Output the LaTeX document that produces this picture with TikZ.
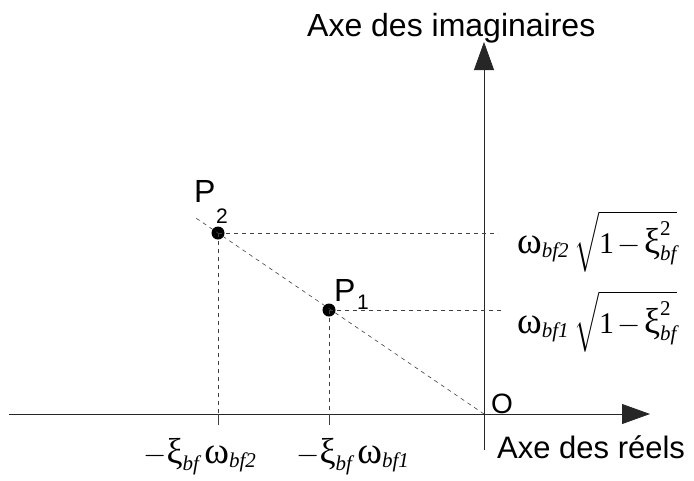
\documentclass[tikz,border=0pt]{standalone}
\usepackage{fix-cm}
\usepackage{amsmath}
\usepackage{fontspec}
\setmainfont{Liberation Serif}
\setsansfont{Liberation Sans}
\usetikzlibrary{arrows.meta}
\newcommand{\ssub}[1]{\text{\itshape #1}}
\newcommand{\gom}{\text{\scalebox{1.25}{ω}}}
\newcommand{\gxi}{\text{\scalebox{1.2}{ξ}}}
\newcommand{\tminus}{\mskip2mu{-}\mskip2mu}
\begin{document}
\begin{tikzpicture}[x=1pt,y=-1pt,
  axis/.style={line width=0.8pt,draw=black!85,-{Triangle[length=28pt,width=20pt]}},
  guide/.style={line width=0.6pt,draw=black!75,dash pattern=on 4pt off 4pt},
  tick/.style={line width=0.6pt,draw=black!75},
  dot/.style={circle,fill=black,inner sep=0pt,minimum size=13pt},
  txt/.style={inner sep=0pt,anchor=base west,font=\sffamily\fontsize{31}{36}\selectfont},
  mathlbl/.style={inner sep=0pt,anchor=base west,font=\fontsize{30}{36}\selectfont}]
\useasboundingbox (0,0) rectangle (694,480);
% axes
\coordinate (O) at (484,414);
\coordinate (XL) at (9,414);
\coordinate (XR) at (650,414);
\coordinate (YB) at (484,450);
\coordinate (YT) at (484,42);
\draw[axis] (XL) -- (XR);
\draw[axis] (YB) -- (YT);
% points
\node[dot] (P2) at (218,233) {};
\node[dot] (P1) at (329,310) {};
\coordinate (D) at (193,216);
\coordinate (H2) at (498,233);
\coordinate (H1) at (502,310);
\coordinate (X2) at (218,414);
\coordinate (T2) at (218,425);
\coordinate (X1) at (329,414);
\coordinate (T1) at (329,425);
\draw[guide] (O) -- (D);
\draw[guide] (P2.center) -- (H2);
\draw[guide] (P1.center) -- (H1);
\draw[guide] (P2.center) -- (X2);
\draw[guide] (P1.center) -- (X1);
\draw[tick] (X2) -- (T2);
\draw[tick] (X1) -- (T1);
% texts
\node[txt,font=\sffamily\fontsize{32}{36}\selectfont] (ly) at (307,36) {Axe des imaginaires};
\node[txt] (lx) at (497,458) {Axe des réels};
\node[txt,font=\sffamily\fontsize{28}{32}\selectfont] (lo) at (491,413) {O};
\node[txt,font=\sffamily\fontsize{32}{36}\selectfont] (lp2) at (194,202) {P};
\node[txt,font=\sffamily\fontsize{21}{24}\selectfont] (lp2s) at (216,223) {2};
\node[txt,font=\sffamily\fontsize{32}{36}\selectfont] (lp1) at (334,301) {P};
\node[txt,font=\sffamily\fontsize{21}{24}\selectfont] (lp1s) at (357,309) {1};
\node[mathlbl] (m2) at (517,253) {$\gom_{\ssub{bf2}}\,\sqrt{\text{1}\tminus\gxi^{\text{2}}_{\ssub{bf}}}$};
\node[mathlbl] (m1) at (517,333) {$\gom_{\ssub{bf1}}\,\sqrt{\text{1}\tminus\gxi^{\text{2}}_{\ssub{bf}}}$};
\node[mathlbl] (b2) at (143,463) {$-\gxi_{\ssub{bf}}\,\gom_{\ssub{bf2}}$};
\node[mathlbl] (b1) at (296,463) {$-\gxi_{\ssub{bf}}\,\gom_{\ssub{bf1}}$};
\end{tikzpicture}
\end{document}
